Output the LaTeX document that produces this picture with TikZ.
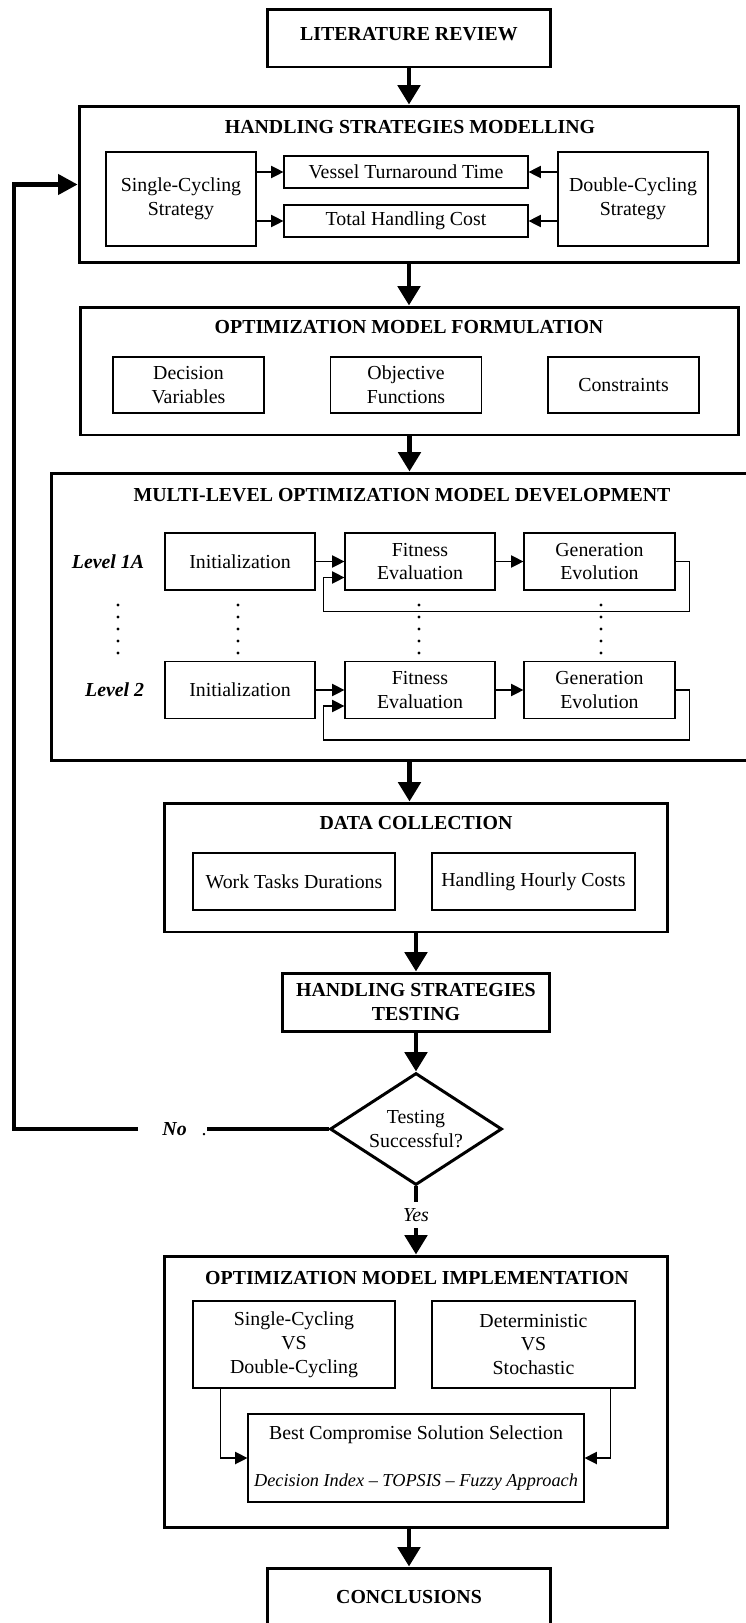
\documentclass[tikz,border=0pt]{standalone}
\usepackage{fontspec}
\setmainfont{Liberation Serif}
\usetikzlibrary{arrows.meta,shapes.geometric}

\begin{document}
\begin{tikzpicture}[x=0.02cm, y=-0.02cm]
  \tikzstyle{every node} = [font=\fontsize{11.3}{13.6}\selectfont, inner sep=2pt]
  \tikzstyle{outerbox} = [draw, line width=1.7pt]
  \tikzstyle{innerbox} = [draw, line width=0.7pt, align=center]
  \tikzstyle{boxtitle} = [font=\fontsize{11.3}{13.6}\selectfont\bfseries, align=center]
  \tikzstyle{levellabel} = [font=\fontsize{11.3}{13.6}\selectfont\bfseries\itshape]
  \tikzstyle{bigarrow} = [line width=2.8pt, -{Triangle[width=12.5pt,length=11pt]}]
  \tikzstyle{bigline} = [line width=2.8pt]
  \tikzstyle{fbline} = [line width=2.3pt]
  \tikzstyle{fbarrow} = [line width=2.3pt, -{Triangle[width=11.3pt,length=11pt]}]
  \tikzstyle{smallarrow} = [line width=0.7pt, -{Triangle[width=7pt,length=7pt]}]
  \useasboundingbox (0,0) rectangle (746,1623);
  \clip (0,0) rectangle (746,1623);
  \fill[white] (0,0) rectangle (746,1623);

  \node[outerbox, boxtitle, text depth=0.18cm, minimum width=5.68cm, minimum height=1.16cm] (lr) at (409,38) {LITERATURE REVIEW};

  \node[outerbox, minimum width=13.2cm, minimum height=3.14cm] (hsm) at (409,184.5) {};
  \node[boxtitle] (hsmt) at (410,127) {HANDLING STRATEGIES MODELLING};
  \node[innerbox, minimum width=3cm, minimum height=1.88cm] (sc) at (181,199) {Single-Cycling\\Strategy};
  \node[innerbox, minimum width=4.88cm, minimum height=0.64cm] (vtt) at (406,172) {Vessel Turnaround Time};
  \node[innerbox, minimum width=4.88cm, minimum height=0.64cm] (thc) at (406,221) {Total Handling Cost};
  \node[innerbox, minimum width=3cm, minimum height=1.88cm] (dcs) at (633,199) {Double-Cycling\\Strategy};
  \path[smallarrow]
  (sc.east |- vtt) edge (vtt)
  (sc.east |- thc) edge (thc)
  (dcs.west |- vtt) edge (vtt)
  (dcs.west |- thc) edge (thc);

  \node[outerbox, minimum width=13.18cm, minimum height=2.56cm] (omf) at (409.5,371) {};
  \node[boxtitle] (omft) at (409,327) {OPTIMIZATION MODEL FORMULATION};
  \node[innerbox, minimum width=3.02cm, minimum height=1.12cm] (dv) at (188.5,385) {Decision\\Variables};
  \node[innerbox, minimum width=3.02cm, minimum height=1.12cm] (of) at (406,385) {Objective\\Functions};
  \node[innerbox, minimum width=3.02cm, minimum height=1.12cm] (con) at (623.5,385) {Constraints};

  \node[outerbox, minimum width=14.04cm, minimum height=5.76cm] (mlomd) at (402,617) {};
  \node[boxtitle] (mlomdt) at (402,495) {MULTI-LEVEL OPTIMIZATION MODEL DEVELOPMENT};
  \foreach \r/\y/\lev in {1/561.5/Level 1A, 2/690/Level 2}{
    \node[levellabel, anchor=east] (lev\r) at (148,\y) {\lev};
    \node[innerbox, minimum width=3cm, minimum height=1.14cm] (init\r) at (240,\y) {Initialization};
    \node[innerbox, minimum width=3cm, minimum height=1.14cm] (fit\r) at (420,\y) {Fitness\\Evaluation};
    \node[innerbox, minimum width=3.02cm, minimum height=1.14cm] (gen\r) at (599.5,\y) {Generation\\Evolution};
    \path[smallarrow]
    (init\r) edge (fit\r)
    (fit\r) edge (gen\r);
    \draw[smallarrow] (gen\r.east) -- ++(14,0) -- ++(0,50)
      -| ([xshift=-0.42cm,yshift=-0.32cm]fit\r.west) -- ([yshift=-0.32cm]fit\r.west);
  }
  \foreach \x in {118,238,419,601}{
    \foreach \y in {605,617,629,641,653}{
      \fill (\x,\y) circle (0.9pt);
    }
  }

  \node[outerbox, minimum width=10.08cm, minimum height=2.58cm] (dc) at (416,867.5) {};
  \node[boxtitle] (dct) at (416,823) {DATA COLLECTION};
  \node[innerbox, minimum width=4.04cm, minimum height=1.14cm] (wtd) at (294,881.5) {Work Tasks Durations};
  \node[innerbox, minimum width=4.06cm, minimum height=1.14cm] (hhc) at (533.5,881.5) {Handling Hourly Costs};

  \node[outerbox, boxtitle, minimum width=5.36cm, minimum height=1.16cm] (hst) at (416,1002) {HANDLING STRATEGIES\\TESTING};
  \node[outerbox, diamond, aspect=1.54, minimum width=3.44cm, minimum height=2.24cm, inner sep=0pt, align=center] (dia) at (416,1129) {Testing\\Successful?};
  \node[anchor=east, inner sep=0pt] (no) at (207,1129) {\textbf{\textit{No}}\hspace{8.5pt}.};
  \coordinate (nol) at (138,1129);
  \coordinate (fbc) at (14,1129);
  \draw[fbline] (dia.west) -- (no.east);
  \draw[fbarrow] (nol) -- (fbc) |- (hsm.west);
  \node[minimum height=0.52cm, inner sep=0pt] (yes) at (416,1215) {\textit{Yes}};

  \node[outerbox, minimum width=10.08cm, minimum height=5.44cm] (omi) at (416,1392) {};
  \node[boxtitle] (omit) at (417,1278) {OPTIMIZATION MODEL IMPLEMENTATION};
  \node[innerbox, minimum width=4.04cm, minimum height=1.74cm] (scdc) at (294,1344.5) {Single-Cycling\\VS\\Double-Cycling};
  \node[innerbox, minimum width=4.06cm, minimum height=1.74cm] (dvs) at (533.5,1344.5) {Deterministic\\VS\\Stochastic};
  \node[innerbox, inner xsep=1pt, minimum width=6.72cm, minimum height=1.76cm] (bcs) at (416,1458) {Best Compromise Solution Selection\\[13.6pt]{\fontsize{10.4}{13.6}\selectfont\textit{Decision Index -- TOPSIS -- Fuzzy Approach}}};
  \draw[smallarrow] ([xshift=0.56cm]scdc.south west) |- (bcs.west);
  \draw[smallarrow] ([xshift=-0.5cm]dvs.south east) |- (bcs.east);

  \node[outerbox, boxtitle, minimum width=5.68cm, minimum height=1.16cm] (conc) at (409,1597) {CONCLUSIONS};

  \path[bigarrow]
  (lr) edge (lr.south |- hsm.north)
  (hsm) edge (hsm.south |- omf.north)
  (omf) edge (omf.south |- mlomd.north)
  (omf.south |- mlomd.south) edge (omf.south |- dc.north)
  (dc) edge (hst)
  (hst) edge (dia)
  (yes.south) edge (yes.south |- omi.north)
  (conc.north |- omi.south) edge (conc);
  \draw[bigline] (dia.south) -- (yes.north);
\end{tikzpicture}
\end{document}
